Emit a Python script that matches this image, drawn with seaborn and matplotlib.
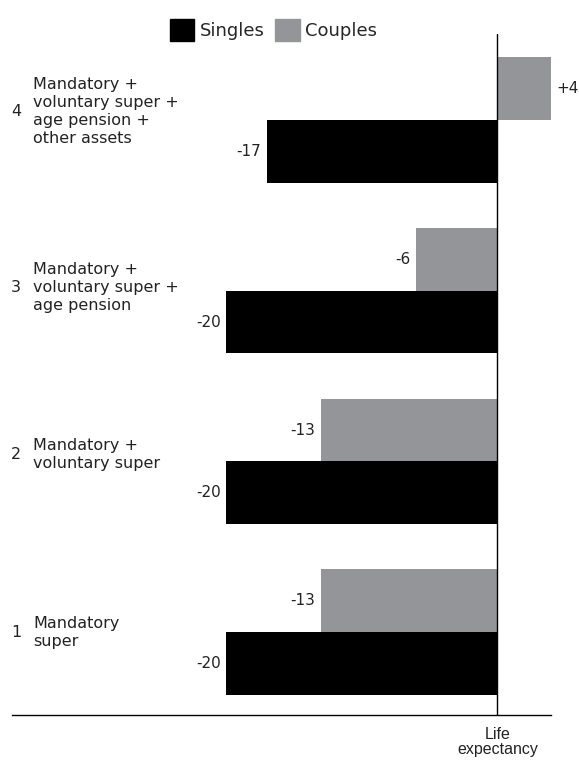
import matplotlib
matplotlib.use("Agg")
import matplotlib.pyplot as plt
import matplotlib.transforms as mtransforms
from matplotlib.patches import Patch
import pandas as pd
import seaborn as sns

# scenario rows, top to bottom
numbers = ["4", "3", "2", "1"]
scenarios = [
    "Mandatory +\nvoluntary super +\nage pension +\nother assets",
    "Mandatory +\nvoluntary super +\nage pension",
    "Mandatory +\nvoluntary super",
    "Mandatory\nsuper",
]
singles = [-17, -20, -20, -20]
couples = [4, -6, -13, -13]
# small vertical nudges of the row labels (in row units)
label_shift = [-0.05, -0.02, -0.04, 0.0]

sns.set_theme(style="white")
plt.rcParams["font.family"] = ["DejaVu Sans"]

df = pd.DataFrame({
    "row": numbers * 2,
    "value": couples + singles,
    "group": ["Couples"] * 4 + ["Singles"] * 4,
})

fig = plt.figure(figsize=(5.79, 7.6), dpi=100)
ax = fig.add_axes([12 / 579, 1 - 715 / 760, 539 / 579, 681 / 760])

palette = {"Singles": "#000000", "Couples": "#939598"}
sns.barplot(data=df, x="value", y="row", hue="group", order=numbers,
            hue_order=["Couples", "Singles"], palette=palette,
            width=0.734, orient="h", saturation=1, legend=False,
            linewidth=0, ax=ax)

ax.set_xlim(-35.8, 3.98)
ax.set_ylim(3.486, -0.504)

for cont, vals in zip(ax.containers, [couples, singles]):
    labs = [f"+{v}" if v > 0 else f"{v}" for v in vals]
    ax.bar_label(cont, labels=labs, padding=4, fontsize=11, color="#222222")

ax.axvline(0, color="black", lw=1.0)
for s in ["top", "left", "right"]:
    ax.spines[s].set_visible(False)
ax.spines["bottom"].set_color("black")
ax.spines["bottom"].set_linewidth(1.0)
ax.set_xticks([])
ax.set_yticks([])
ax.set_xlabel("")
ax.set_ylabel("")

trans = mtransforms.blended_transform_factory(fig.transFigure, ax.transData)
for i, (n, txt) in enumerate(zip(numbers, scenarios)):
    yy = i + label_shift[i]
    fig.text(16 / 579, yy, n, transform=trans, ha="center", va="center",
             fontsize=11.5, color="#222222")
    fig.text(33 / 579, yy, txt, transform=trans, ha="left", va="center",
             fontsize=11.5, color="#222222", linespacing=1.25)

fig.text(497.5 / 579, 1 - 727 / 760, "Life\nexpectancy", ha="center", va="top",
         fontsize=11.5, family="Liberation Sans", linespacing=1.0,
         color="#222222")

handles = [Patch(color="#000000"), Patch(color="#939598")]
fig.legend(handles, ["Singles", "Couples"], loc="center", ncol=2,
           bbox_to_anchor=(273.5 / 579, 1 - 30 / 760), frameon=False,
           fontsize=13, handlelength=1.35, handleheight=1.45,
           handletextpad=0.3, columnspacing=0.6, borderpad=0)

fig.savefig("out.png", dpi=100, facecolor="white")
